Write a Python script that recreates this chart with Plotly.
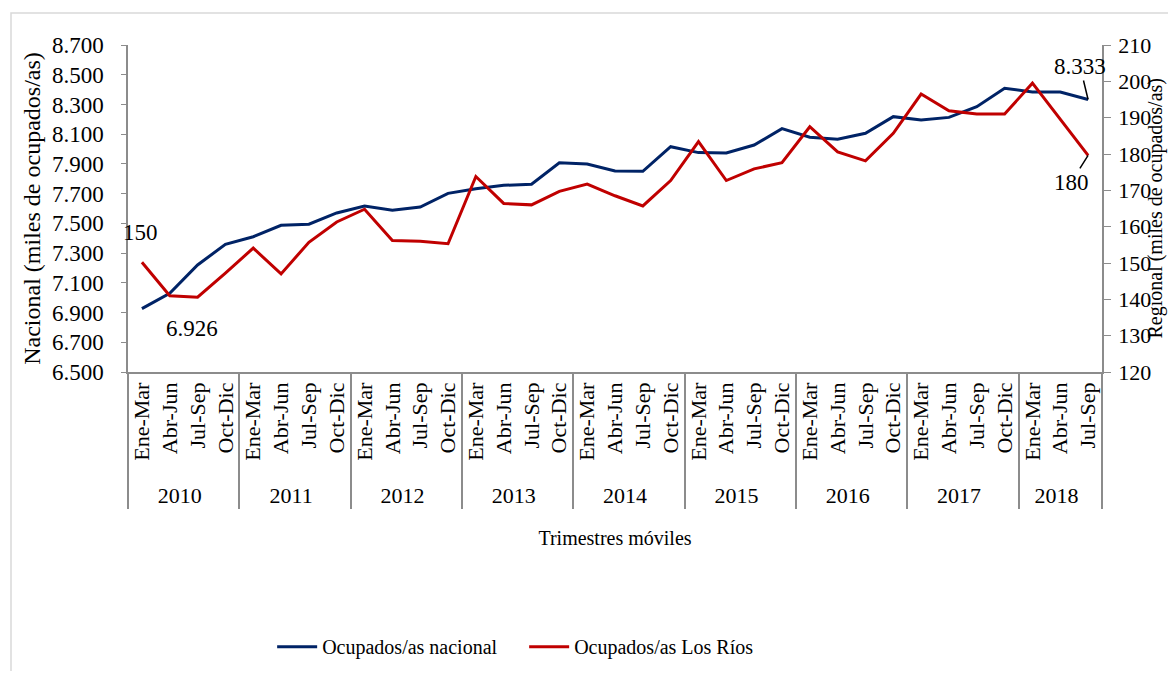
import plotly.graph_objects as go

years = ["2010"] * 4 + ["2011"] * 4 + ["2012"] * 4 + ["2013"] * 4 + ["2014"] * 4 + \
        ["2015"] * 4 + ["2016"] * 4 + ["2017"] * 4 + ["2018"] * 3
quarters = (["Ene-Mar", "Abr-Jun", "Jul-Sep", "Oct-Dic"] * 9)[:35]

nacional = [6926, 7030, 7220, 7359, 7410, 7487, 7494, 7570, 7617, 7588, 7610, 7702,
            7733, 7756, 7763, 7908, 7899, 7852, 7850, 8016, 7976, 7973, 8027, 8137,
            8079, 8066, 8106, 8218, 8195, 8213, 8285, 8409, 8384, 8384, 8333]
los_rios = [150.2, 141.0, 140.6, 147.2, 154.1, 147.0, 155.7, 161.3, 164.8, 156.2,
            156.0, 155.3, 173.8, 166.4, 166.0, 169.7, 171.7, 168.5, 165.7, 172.7,
            183.4, 172.7, 175.9, 177.6, 187.5, 180.6, 178.1, 185.7, 196.5, 191.9,
            191.0, 191.0, 199.5, 189.4, 179.6]

FONT = "Liberation Serif, Times New Roman, serif"
AXC = "#8c8c8c"
NOLINE = "rgba(0,0,0,0)"

fig = go.Figure()
fig.add_trace(go.Scatter(x=[years, quarters], y=nacional, mode="lines",
                         name="Ocupados/as nacional",
                         line=dict(color="#002366", width=3)))
fig.add_trace(go.Scatter(x=[years, quarters], y=los_rios, mode="lines",
                         name="Ocupados/as Los Ríos", yaxis="y2",
                         line=dict(color="#C00000", width=3)))

n = len(nacional)
fig.add_annotation(x=0, y=nacional[0], xref="x", yref="y", text=f"{nacional[0]/1000:.3f}",
                   showarrow=True, arrowcolor=NOLINE, arrowwidth=0.1, ax=50, ay=20,
                   font=dict(size=23))
fig.add_annotation(x=0, y=los_rios[0], xref="x", yref="y2", text=f"{round(los_rios[0])}",
                   showarrow=True, arrowcolor=NOLINE, arrowwidth=0.1, ax=-1, ay=-30,
                   font=dict(size=23))
fig.add_annotation(x=n - 1, y=nacional[-1], xref="x", yref="y", text=f"{nacional[-1]/1000:.3f}",
                   showarrow=True, arrowhead=0, arrowwidth=1.5, arrowcolor="black",
                   ax=-8, ay=-33, font=dict(size=23))
fig.add_annotation(x=n - 1, y=los_rios[-1], xref="x", yref="y2", text=f"{round(los_rios[-1])}",
                   showarrow=True, arrowhead=0, arrowwidth=1.5, arrowcolor="black",
                   ax=-17, ay=27, font=dict(size=23))

# right axis title, kept at the right edge of the chart
fig.add_annotation(x=(1155 - 128) / 974, y=0.5, xref="paper", yref="paper", showarrow=False,
                   text="Regional (miles de ocupados/as)", textangle=-90,
                   xanchor="center", yanchor="middle", font=dict(size=20))

# outer light border of the chart area
fig.add_shape(type="rect", xref="paper", yref="paper",
              x0=(11 - 128) / 974, x1=1.2, y0=-1.2, y1=(372 - 13) / 327,
              line=dict(color="#d9d9d9", width=1.5), layer="below")

fig.update_layout(
    width=1160, height=663,
    margin=dict(l=120, r=66, t=37, b=299, autoexpand=False),
    paper_bgcolor="white", plot_bgcolor="white",
    font=dict(family=FONT, size=22, color="black"),
    separators=",.",
    showlegend=True,
    legend=dict(orientation="h", x=0.148, xanchor="left", y=-0.84, yanchor="middle",
                font=dict(size=20), itemwidth=40, entrywidth=197, entrywidthmode="pixels"),
    xaxis=dict(type="multicategory", range=[-0.5, n - 0.5], autorange=False,
               showline=True, linecolor=AXC, linewidth=1.5,
               ticks="", tickangle=-90, showdividers=True, dividercolor=AXC,
               dividerwidth=1.5, showgrid=False, tickfont=dict(size=22), automargin=False,
               title=dict(text="Trimestres móviles", font=dict(size=20), standoff=24)),
    yaxis=dict(range=[6500, 8700], dtick=200, tick0=6500, tickformat=",d",
               showline=True, linecolor=AXC, linewidth=1.5, ticks="outside",
               tickcolor=AXC, ticklen=5, showgrid=False, zeroline=False,
               tickfont=dict(size=23), ticklabelstandoff=13, automargin=False,
               title=dict(text="Nacional (miles de ocupados/as)", font=dict(size=24), standoff=5)),
    yaxis2=dict(range=[120, 210], dtick=10, tick0=120, overlaying="y", side="right",
                showline=True, linecolor=AXC, linewidth=1.5, ticks="outside",
                tickcolor=AXC, ticklen=7, showgrid=False, zeroline=False,
                tickfont=dict(size=22), ticklabelstandoff=3, automargin=False),
)

fig.write_html("out.html")
